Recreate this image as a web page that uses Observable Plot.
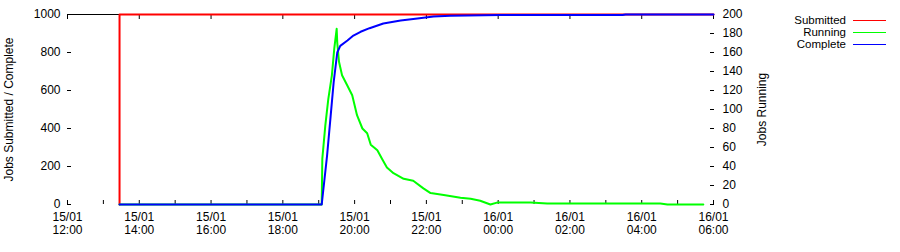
<!DOCTYPE html>
<html><head><meta charset="utf-8">
<script src="https://cdn.jsdelivr.net/npm/d3@7"></script>
<script src="https://cdn.jsdelivr.net/npm/@observablehq/plot@0.6"></script>
<style>
body{margin:0;background:#fff;font-family:"Liberation Sans",Arial,sans-serif;}
#wrap{position:relative;width:900px;height:252px;}
#legend{position:absolute;left:0;top:0;width:900px;height:60px;pointer-events:none;}
.lrow{position:absolute;left:700px;width:186px;height:11px;font-size:11.5px;line-height:11px;}
.lrow span{position:absolute;right:40px;top:0;white-space:nowrap;}
.lrow i{position:absolute;right:0;top:5.5px;width:33px;height:0;border-top:1px solid;}
</style></head><body><div id="wrap"></div>
<script>
// ---- data ----
const seriesNames = ["Submitted", "Running", "Complete"];
const seriesColors = ["#ff0000", "#00ff00", "#0000ff"];

const submittedTimes = ["15 13:27", "15 13:27", "16 06:00"];
const submittedValues = [0, 1000, 1000];

const runningTimes = ["15 13:27","15 19:05","15 19:06","15 19:11","15 19:16","15 19:22","15 19:26","15 19:30","15 19:31","15 19:34","15 19:39","15 19:48","15 19:56","15 20:04","15 20:13","15 20:21","15 20:27","15 20:38","15 20:46","15 20:54","15 21:05","15 21:22","15 21:38","15 21:55","15 22:07","15 22:29","15 22:57","15 23:14","15 23:30","15 23:47","15 23:58","16 00:54","16 01:22","16 02:51","16 04:31","16 04:43","16 05:43"];
const runningValues = [0,0,48,83,111,136,164,185,170,150,136,125,115,94,80,75,63,57,48,39,33,27,25,17,12,10,7,6,4,0,2,2,1,1,1,0,0];

const completeTimes = ["15 13:27","15 19:05","15 19:14","15 19:20","15 19:25","15 19:31","15 19:36","15 19:48","15 19:58","15 20:10","15 20:25","15 20:48","15 21:17","15 21:45","15 22:12","15 22:40","15 23:09","16 00:04","16 03:28","16 03:33","16 06:00"];
const completeValues = [0,0,258,468,644,800,835,863,889,909,928,953,968,979,989,993,995,997,997,1000,1000];

const xDomain = ["15 12:00", "16 06:00"];
const xLabelTicks = ["15 12:00","15 14:00","15 16:00","15 18:00","15 20:00","15 22:00","16 00:00","16 02:00","16 04:00","16 06:00"];
const xHourTicks = ["15 12:00","15 13:00","15 14:00","15 15:00","15 16:00","15 17:00","15 18:00","15 19:00","15 20:00","15 21:00","15 22:00","15 23:00","16 00:00","16 01:00","16 02:00","16 03:00","16 04:00","16 05:00","16 06:00"];
const leftTicks = [0, 200, 400, 600, 800, 1000];
const rightTicks = [0, 20, 40, 60, 80, 100, 120, 140, 160, 180, 200];
const leftMax = 1000, rightMax = 200;

// ---- build ----
const parse = d3.utcParse("%d %H:%M");
const k = leftMax / rightMax;
const toRows = (ts, vs) => ts.map((t, i) => ({t: parse(t), v: vs[i]}));
const submitted = toRows(submittedTimes, submittedValues);
const running = toRows(runningTimes, runningValues);
const complete = toRows(completeTimes, completeValues);
const fmt = d3.utcFormat("%d/%m\n%H:%M");
const blank = () => "";

const chart = Plot.plot({
  width: 900, height: 252,
  marginLeft: 67, marginRight: 187, marginTop: 14, marginBottom: 48,
  style: {fontFamily: '"Liberation Sans", Arial, sans-serif', fontSize: "12px", color: "#000", background: "#fff", overflow: "visible"},
  x: {type: "utc", domain: xDomain.map(parse)},
  y: {domain: [0, leftMax]},
  marks: [
    Plot.ruleY([leftMax], {stroke: "#000", strokeWidth: 1}),
    Plot.axisY({anchor: "left", ticks: leftTicks, tickSize: -4, tickPadding: 11, tickFormat: d => String(d), label: "Jobs Submitted / Complete", labelAnchor: "center", labelOffset: 63, labelArrow: "none"}),
    Plot.axisY(rightTicks.map(v => v * k), {anchor: "right", tickSize: -4, tickPadding: 13, tickFormat: d => String(d / k), label: "Jobs Running", labelAnchor: "center", labelOffset: 52, labelArrow: "none"}),
    Plot.axisX(xHourTicks.map(parse), {anchor: "bottom", tickSize: -4, tickFormat: blank, label: null}),
    Plot.axisX(xLabelTicks.map(parse), {anchor: "bottom", tickSize: 0, tickPadding: 8, tickFormat: fmt, label: null, lineHeight: 1.05}),
    Plot.axisX(xLabelTicks.map(parse), {anchor: "top", tickSize: -4, tickFormat: blank, label: null}),
    Plot.line(submitted, {x: "t", y: "v", stroke: seriesColors[0], strokeWidth: 2}),
    Plot.line(running, {x: "t", y: d => d.v * k, stroke: seriesColors[1], strokeWidth: 2}),
    Plot.line(complete, {x: "t", y: "v", stroke: seriesColors[2], strokeWidth: 2})
  ]
});
const wrap = document.getElementById("wrap");
wrap.appendChild(chart);
const legend = document.createElement("div");
legend.id = "legend";
seriesNames.forEach((n, i) => {
  const row = document.createElement("div");
  row.className = "lrow";
  row.style.top = (14.5 + i * 12) + "px";
  row.innerHTML = `<span>${n}</span><i style="border-color:${seriesColors[i]}"></i>`;
  legend.appendChild(row);
});
wrap.appendChild(legend);
</script></body></html>
